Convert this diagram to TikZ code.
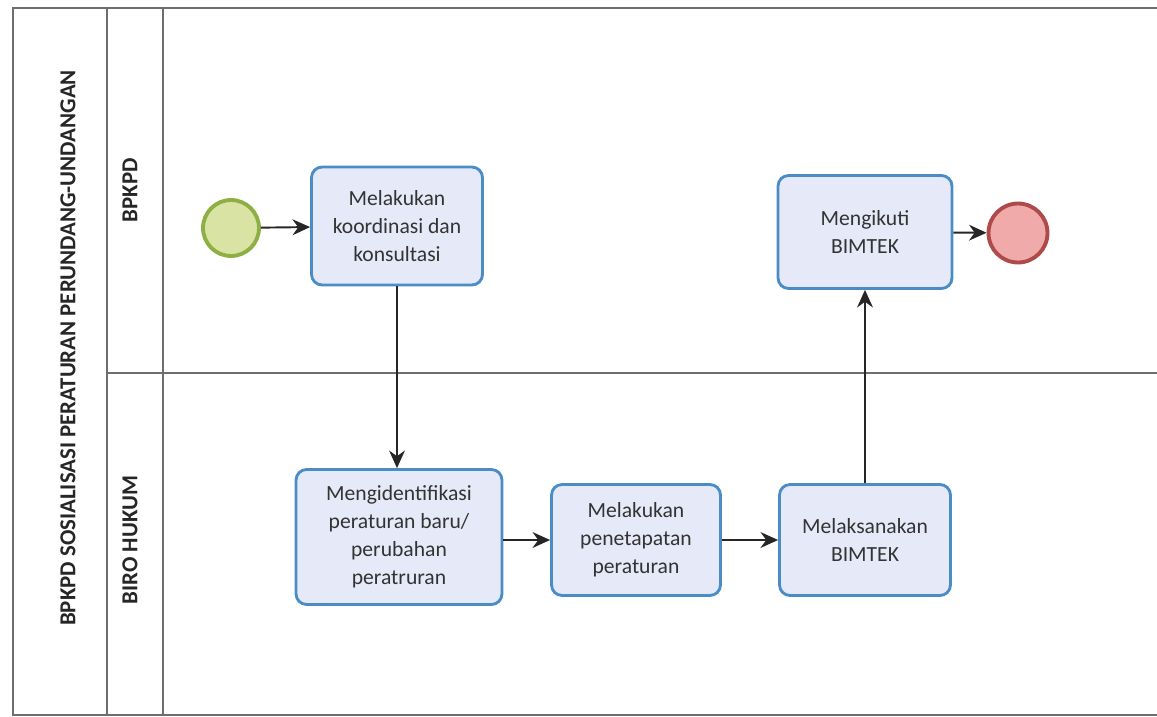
\documentclass[tikz,border=0pt]{standalone}
\usepackage{fontspec}
\setmainfont{Carlito}
\usetikzlibrary{arrows.meta}

\definecolor{taskfill}{HTML}{E6EAF8}
\definecolor{taskline}{HTML}{4A8CC6}
\definecolor{startfill}{HTML}{D9E3A3}
\definecolor{startline}{HTML}{8EAF44}
\definecolor{endfill}{HTML}{F0AAAA}
\definecolor{endline}{HTML}{AE4A4A}
\definecolor{poolline}{HTML}{6E6E6E}

\begin{document}
\begin{tikzpicture}[x=0.02cm, y=-0.02cm,
  task/.style={draw=taskline, fill=taskfill, line width=1.6pt, rounded corners=6pt,
    align=center, text=black!80, font=\fontsize{12.3}{16}\selectfont, inner sep=2pt},
  event/.style={circle, line width=2.2pt, inner sep=0pt},
  flow/.style={-{Stealth[length=10pt, width=9pt]}, line width=1.1pt, black!85},
  lanetext/.style={rotate=90, font=\fontsize{13}{15}\selectfont\bfseries, text=black!85}]
  \useasboundingbox (0,0) rectangle (1157,717);

  % pool and lanes
  \draw[poolline, line width=0.7pt] (1157,8) -- (13,8) -- (13,715) -- (1157,715);
  \draw[poolline, line width=0.7pt] (107,8) -- (107,715);
  \draw[poolline, line width=0.7pt] (163,8) -- (163,715);
  \draw[poolline, line width=0.7pt] (107,373) -- (1157,373);
  \node[lanetext] (pool) at (68,348) {BPKPD SOSIALISASI PERATURAN PERUNDANG-UNDANGAN};
  \node[lanetext] (bpkpd) at (130,190) {BPKPD};
  \node[lanetext] (biro) at (130,540) {BIRO HUKUM};

  % events
  \node[event, draw=startline, fill=startfill, minimum size=1.12cm] (start) at (231,228) {};
  \node[event, draw=endline, fill=endfill, minimum size=1.18cm] (stop) at (1018,233) {};

  % tasks
  \node[task, minimum width=3.42cm, minimum height=2.36cm] (koord) at (397,226)
    {Melakukan\\koordinasi dan\\konsultasi};
  \node[task, minimum width=3.48cm, minimum height=2.26cm] (ikut) at (865,232)
    {Mengikuti\\BIMTEK};
  \node[task, minimum width=4.12cm, minimum height=2.7cm] (ident) at (399,537)
    {Mengidentifikasi\\peraturan baru/\\perubahan\\peratruran};
  \node[task, minimum width=3.38cm, minimum height=2.22cm] (tetap) at (636,540)
    {Melakukan\\penetapatan\\peraturan};
  \node[task, minimum width=3.42cm, minimum height=2.22cm] (laksana) at (865,540)
    {Melaksanakan\\BIMTEK};

  % sequence flows
  \draw[flow] (start) -- (koord);
  \draw[flow] (koord.south) -- (koord.south |- ident.north);
  \draw[flow] (ident.east |- tetap.west) -- (tetap.west);
  \draw[flow] (tetap) -- (laksana);
  \draw[flow] (laksana) -- (ikut);
  \draw[flow] (ikut) -- (stop);
\end{tikzpicture}
\end{document}
